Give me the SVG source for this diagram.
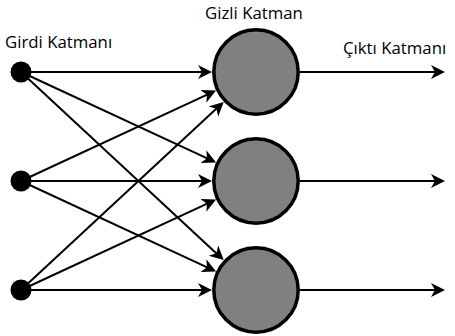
<svg xmlns="http://www.w3.org/2000/svg" width="455" height="336" viewBox="0 0 455 336">
  <style>
    .lbl { font-family: "Open Sans", "Liberation Sans", sans-serif; font-size: 16.8px; fill: #000; }
    .edge { stroke: #000; stroke-width: 2; fill: none; }
    .hidden { fill: #808080; stroke: #000; stroke-width: 3.5; }
    .input { fill: #000; }
  </style>
  <defs>
    <marker id="arrow" markerUnits="userSpaceOnUse" markerWidth="16" markerHeight="16" refX="6" refY="7" orient="auto">
      <path d="M0,0 L14,7 L0,14 L4,7 z" fill="#000"/>
    </marker>
  </defs>

  <!-- layer titles -->
  <text class="lbl" x="5" y="48">Girdi Katmanı</text>
  <text class="lbl" x="205" y="19">Gizli Katman</text>
  <text class="lbl" x="343" y="54">Çıktı Katmanı</text>

  <!-- connectors: input to hidden, hidden to output -->
  <g id="connectors">
    <line class="edge" x1="21" y1="72" x2="204" y2="72" marker-end="url(#arrow)"/>
    <line class="edge" x1="21" y1="72" x2="208.83" y2="159.13" marker-end="url(#arrow)"/>
    <line class="edge" x1="21" y1="72" x2="217.87" y2="254.65" marker-end="url(#arrow)"/>

    <line class="edge" x1="21" y1="181" x2="208.83" y2="93.87" marker-end="url(#arrow)"/>
    <line class="edge" x1="21" y1="181" x2="204" y2="181" marker-end="url(#arrow)"/>
    <line class="edge" x1="21" y1="181" x2="208.83" y2="268.13" marker-end="url(#arrow)"/>

    <line class="edge" x1="21" y1="290" x2="217.87" y2="107.35" marker-end="url(#arrow)"/>
    <line class="edge" x1="21" y1="290" x2="208.83" y2="202.87" marker-end="url(#arrow)"/>
    <line class="edge" x1="21" y1="290" x2="204" y2="290" marker-end="url(#arrow)"/>

    <line class="edge" x1="300" y1="72" x2="437" y2="72" marker-end="url(#arrow)"/>
    <line class="edge" x1="300" y1="181" x2="437" y2="181" marker-end="url(#arrow)"/>
    <line class="edge" x1="300" y1="290" x2="437" y2="290" marker-end="url(#arrow)"/>
  </g>

  <!-- input layer -->
  <g id="in1"><circle class="input" cx="21" cy="72" r="10.5"/></g>
  <g id="in2"><circle class="input" cx="21" cy="181" r="10.5"/></g>
  <g id="in3"><circle class="input" cx="21" cy="290" r="10.5"/></g>

  <!-- hidden layer -->
  <g id="h1"><circle class="hidden" cx="256" cy="72" r="42.2"/></g>
  <g id="h2"><circle class="hidden" cx="256" cy="181" r="42.2"/></g>
  <g id="h3"><circle class="hidden" cx="256" cy="290" r="42.2"/></g>
</svg>
